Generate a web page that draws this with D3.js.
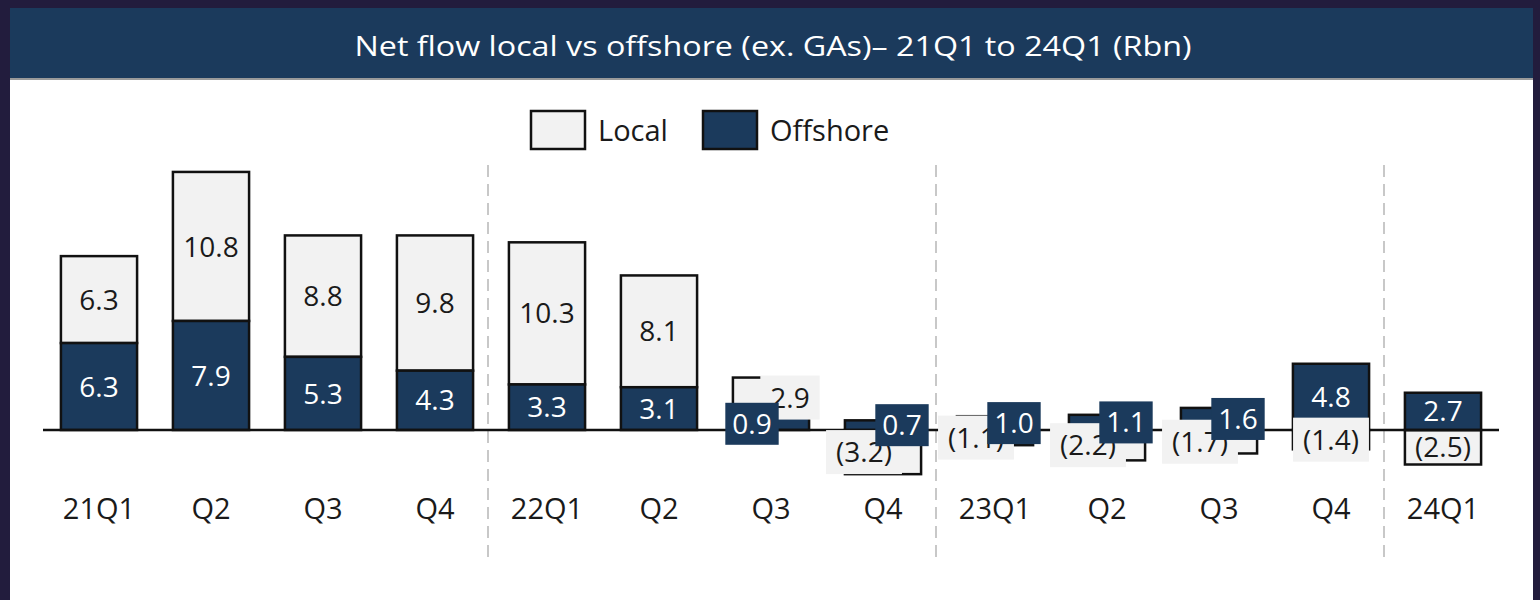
<!DOCTYPE html>
<html><head><meta charset="utf-8">
<script src="https://cdn.jsdelivr.net/npm/d3@7"></script>
<style>body{margin:0;background:#221c3d} svg{display:block}</style>
</head><body>
<svg id="chart" width="1540" height="600"></svg>
<script>
const categories = ["21Q1","Q2","Q3","Q4","22Q1","Q2","Q3","Q4","23Q1","Q2","Q3","Q4","24Q1"];
const localValues = [6.3,10.8,8.8,9.8,10.3,8.1,2.9,-3.2,-1.1,-2.2,-1.7,-1.4,-2.5];
const offshoreValues = [6.3,7.9,5.3,4.3,3.3,3.1,0.9,0.7,1.0,1.1,1.6,4.8,2.7];
const seriesNames = ["Local","Offshore"];
const yearStartIdx = [4,8,12];
const titleText = "Net flow local vs offshore (ex. GAs)\u2013 21Q1 to 24Q1 (Rbn)";

const W = 1540, H = 600;
const NAVY = "#1b3a5c", LIGHT = "#f2f2f2", FONT = "'Open Sans', sans-serif";
const svg = d3.select("#chart");

// frame
svg.append("rect").attr("width", W).attr("height", H).attr("fill", "#221c3d");
svg.append("rect").attr("x", 10).attr("y", 8).attr("width", 1523).attr("height", 592).attr("fill", "#ffffff");
svg.append("rect").attr("x", 10).attr("y", 8).attr("width", 1523).attr("height", 70).attr("fill", NAVY);
svg.append("line").attr("x1", 10).attr("x2", 1533).attr("y1", 79).attr("y2", 79).attr("stroke", "#9a9a9a").attr("stroke-width", 2);
svg.append("text").attr("x", 773).attr("y", 47).attr("dy", "0.35em").attr("text-anchor", "middle")
  .attr("fill", "#ffffff").attr("font-family", FONT).attr("font-size", 27)
  .attr("textLength", 837).attr("lengthAdjust", "spacingAndGlyphs").text(titleText);

// scales
const idx = d3.range(categories.length);
const x = d3.scaleBand().domain(idx).range([43, 1499]).paddingInner(0.32).paddingOuter(0.16);
const y = d3.scaleLinear().domain([-5, 20]).range([499, 154]);
const bw = x.bandwidth();

// separators
yearStartIdx.forEach(i => {
  const sx = (x(i - 1) + bw + x(i)) / 2 - 3;
  svg.append("line").attr("x1", sx).attr("x2", sx).attr("y1", 165).attr("y2", 562)
    .attr("stroke", "#c8c8c8").attr("stroke-width", 2).attr("stroke-dasharray", "12,7");
});

// segments
const data = idx.map(i => {
  const off = offshoreValues[i], loc = localValues[i];
  return {
    i, off, loc,
    offSeg: [0, off],
    locSeg: loc >= 0 ? [off, off + loc] : [0, loc]
  };
});

const g = svg.append("g");
data.forEach(d => {
  g.append("rect").attr("x", x(d.i)).attr("width", bw)
    .attr("y", y(Math.max(...d.locSeg))).attr("height", Math.abs(y(d.locSeg[0]) - y(d.locSeg[1])))
    .attr("fill", LIGHT).attr("stroke", "#111").attr("stroke-width", 2.5);
  g.append("rect").attr("x", x(d.i)).attr("width", bw)
    .attr("y", y(d.offSeg[1])).attr("height", y(0) - y(d.offSeg[1]))
    .attr("fill", NAVY).attr("stroke", "#111").attr("stroke-width", 2.5);
});

// zero axis line
svg.append("line").attr("x1", x.range()[0]).attr("x2", x.range()[1]).attr("y1", y(0)).attr("y2", y(0))
  .attr("stroke", "#111").attr("stroke-width", 2.5);

// labels
const fmt = v => v < 0 ? "(" + Math.abs(v).toFixed(1) + ")" : v.toFixed(1);
function label(cx, cy, txt, dark, boxed) {
  const lg = svg.append("g");
  const box = lg.append("rect");
  const t = lg.append("text").attr("x", cx).attr("y", cy).attr("dy", "0.36em")
    .attr("text-anchor", "middle").attr("font-family", FONT).attr("font-size", 28)
    .attr("fill", dark ? "#ffffff" : "#1a1a1a").text(txt);
  if (boxed) {
    const w = t.node().getComputedTextLength() + (dark ? 14 : 20);
    const h = dark ? 42 : 44;
    box.attr("x", cx - w / 2).attr("y", cy - h / 2).attr("width", w).attr("height", h)
      .attr("fill", dark ? NAVY : LIGHT);
  } else box.remove();
}
const layers = [];
data.forEach(d => {
  const cx = x(d.i) + bw / 2;
  const small = d.off < 2;
  const shift = small ? (d.loc >= 0 ? 19 : -19) : 0;
  const locH = Math.abs(y(d.locSeg[0]) - y(d.locSeg[1]));
  const offH = y(0) - y(d.off);
  layers.push({ order: 0, f: () => label(cx + shift, (y(d.locSeg[0]) + y(d.locSeg[1])) / 2, fmt(d.loc), false, small || locH < 30) });
  layers.push({ order: 1, f: () => label(cx - shift, (y(0) + y(d.off)) / 2, fmt(d.off), true, small || offH < 30) });
});
layers.filter(l => l.order === 0).forEach(l => l.f());
layers.filter(l => l.order === 1).forEach(l => l.f());

// category labels
svg.append("g").selectAll("text").data(idx).join("text")
  .attr("x", i => x(i) + bw / 2).attr("y", 509).attr("dy", "0.36em")
  .attr("text-anchor", "middle").attr("font-family", FONT).attr("font-size", 29)
  .attr("fill", "#1a1a1a").text(i => categories[i]);

// legend
const legend = [
  { name: seriesNames[0], fill: LIGHT, bx: 531, tx: 598 },
  { name: seriesNames[1], fill: NAVY, bx: 703, tx: 770 }
];
legend.forEach(l => {
  svg.append("rect").attr("x", l.bx).attr("y", 111).attr("width", 54).attr("height", 38)
    .attr("fill", l.fill).attr("stroke", "#111").attr("stroke-width", 2.5);
  svg.append("text").attr("x", l.tx).attr("y", 131).attr("dy", "0.36em")
    .attr("font-family", FONT).attr("font-size", 29).attr("fill", "#1a1a1a").text(l.name);
});
</script>
</body></html>
